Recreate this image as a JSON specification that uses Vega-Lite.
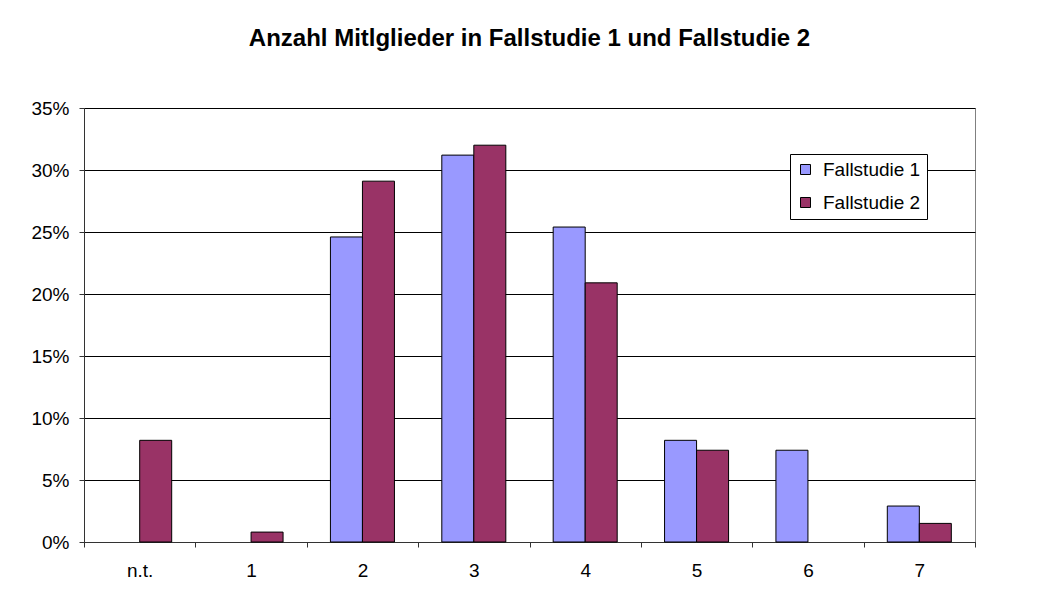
{
  "$schema": "https://vega.github.io/schema/vega-lite/v6.json",
  "autosize": {"type": "none"},
  "width": 891,
  "height": 434,
  "padding": {"left": 84, "top": 108, "right": 79, "bottom": 62},
  "background": "white",
  "title": {
    "text": "Anzahl Mitlglieder in Fallstudie 1 und Fallstudie 2",
    "font": "Liberation Sans",
    "fontSize": 24,
    "fontWeight": "bold",
    "color": "black",
    "anchor": "middle",
    "baseline": "alphabetic",
    "offset": 29
  },
  "data": {
    "values": [
      {"kategorie": "n.t.", "serie": "Fallstudie 2", "anteil": 0.082},
      {"kategorie": "1", "serie": "Fallstudie 2", "anteil": 0.008},
      {"kategorie": "2", "serie": "Fallstudie 1", "anteil": 0.246},
      {"kategorie": "2", "serie": "Fallstudie 2", "anteil": 0.291},
      {"kategorie": "3", "serie": "Fallstudie 1", "anteil": 0.312},
      {"kategorie": "3", "serie": "Fallstudie 2", "anteil": 0.320},
      {"kategorie": "4", "serie": "Fallstudie 1", "anteil": 0.254},
      {"kategorie": "4", "serie": "Fallstudie 2", "anteil": 0.209},
      {"kategorie": "5", "serie": "Fallstudie 1", "anteil": 0.082},
      {"kategorie": "5", "serie": "Fallstudie 2", "anteil": 0.074},
      {"kategorie": "6", "serie": "Fallstudie 1", "anteil": 0.074},
      {"kategorie": "7", "serie": "Fallstudie 1", "anteil": 0.029},
      {"kategorie": "7", "serie": "Fallstudie 2", "anteil": 0.015}
    ]
  },
  "mark": {"type": "bar", "stroke": "black", "strokeWidth": 1},
  "encoding": {
    "x": {
      "field": "kategorie",
      "type": "nominal",
      "sort": ["n.t.", "1", "2", "3", "4", "5", "6", "7"],
      "scale": {"domain": ["n.t.", "1", "2", "3", "4", "5", "6", "7"], "paddingInner": 0, "paddingOuter": 0},
      "axis": {
        "title": null,
        "labelAngle": 0,
        "tickBand": "extent",
        "grid": false,
        "tickSize": 5,
        "labelPadding": 14,
        "labelFontSize": 19
      }
    },
    "xOffset": {
      "field": "serie",
      "type": "nominal",
      "scale": {"domain": ["Fallstudie 1", "Fallstudie 2"], "paddingInner": 0, "paddingOuter": 0.74}
    },
    "y": {
      "field": "anteil",
      "type": "quantitative",
      "scale": {"domain": [0, 0.35], "nice": false},
      "axis": {
        "title": null,
        "format": ".0%",
        "values": [0, 0.05, 0.1, 0.15, 0.2, 0.25, 0.3, 0.35],
        "grid": true,
        "gridColor": "black",
        "gridOpacity": 1,
        "tickSize": 5,
        "labelPadding": 10,
        "labelFontSize": 19
      }
    },
    "color": {
      "field": "serie",
      "type": "nominal",
      "scale": {"domain": ["Fallstudie 1", "Fallstudie 2"], "range": ["#9999FF", "#993366"]},
      "legend": {
        "title": null,
        "orient": "none",
        "legendX": 706,
        "legendY": 46,
        "fillColor": "white",
        "strokeColor": "black",
        "padding": 6,
        "rowPadding": 13,
        "symbolType": "square",
        "symbolSize": 100,
        "symbolStrokeColor": "black",
        "symbolStrokeWidth": 1,
        "symbolOpacity": 1,
        "labelFontSize": 19,
        "labelOffset": 8,
        "labelColor": "black",
        "labelFont": "Liberation Sans"
      }
    }
  },
  "config": {
    "font": "Liberation Sans",
    "view": {"stroke": "#808080", "strokeWidth": 1},
    "axis": {
      "labelFont": "Liberation Sans",
      "labelColor": "black",
      "domainColor": "#333333",
      "tickColor": "#333333",
      "domainWidth": 1,
      "tickWidth": 1
    }
  }
}
